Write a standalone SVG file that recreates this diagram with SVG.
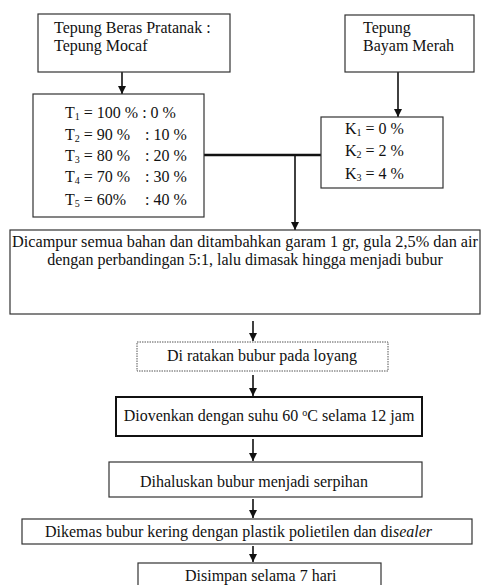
<svg xmlns="http://www.w3.org/2000/svg" width="481" height="585" viewBox="0 0 481 585" font-family="Liberation Serif, DejaVu Serif, serif">
<style>
text{font-family:'Liberation Serif','DejaVu Serif',serif;font-size:16px;fill:#111}
.box{fill:#fff;stroke:#333;stroke-width:1.2}
.thick{fill:#fff;stroke:#111;stroke-width:2}
.dot{fill:#fff;stroke:#555;stroke-width:1;stroke-dasharray:1.5 1}
.c{text-anchor:middle}
.conn{stroke:#111;stroke-width:1.6;fill:none}
.sub{font-size:10px}
</style>
<defs>
<marker id="ah" markerUnits="userSpaceOnUse" markerWidth="9" markerHeight="9" refX="8" refY="4" orient="auto">
<path d="M0,0 L8,4 L0,8 z" fill="#111"/>
</marker>
</defs>
<rect width="481" height="585" fill="#fff"/>
<g id="connectors">
<line class="conn" x1="122" y1="72" x2="122" y2="94" marker-end="url(#ah)"/>
<line class="conn" x1="398" y1="72" x2="398" y2="117" marker-end="url(#ah)"/>
<line x1="204" y1="155" x2="321" y2="155" stroke="#111" stroke-width="2.6"/>
<line class="conn" x1="295" y1="155" x2="295" y2="230" marker-end="url(#ah)"/>
<line class="conn" x1="253" y1="321" x2="253" y2="341" marker-end="url(#ah)"/>
<line class="conn" x1="253" y1="375" x2="253" y2="396" marker-end="url(#ah)"/>
<line class="conn" x1="253" y1="439" x2="253" y2="461" marker-end="url(#ah)"/>
<line class="conn" x1="253" y1="499" x2="253" y2="518" marker-end="url(#ah)"/>
<line class="conn" x1="253" y1="546" x2="253" y2="562" marker-end="url(#ah)"/>
</g>
<g id="tepung-beras">
<rect class="box" x="38" y="14" width="192" height="58"/>
<text x="54" y="33">Tepung Beras Pratanak :</text>
<text x="54" y="51">Tepung Mocaf</text>
</g>
<g id="tepung-bayam">
<rect class="box" x="345" y="15" width="129" height="57"/>
<text x="363" y="33">Tepung</text>
<text x="363" y="51">Bayam Merah</text>
</g>
<g id="perlakuan-t">
<rect class="box" x="33" y="94" width="171" height="123"/>
<text x="65" y="118">T<tspan class="sub" dy="2">1</tspan><tspan dy="-2"> = 100 % : 0 %</tspan></text>
<text x="65" y="140">T<tspan class="sub" dy="2">2</tspan><tspan dy="-2"> = 90 %</tspan></text>
<text x="145" y="140">: 10 %</text>
<text x="65" y="161">T<tspan class="sub" dy="2">3</tspan><tspan dy="-2"> = 80 %</tspan></text>
<text x="145" y="161">: 20 %</text>
<text x="65" y="182">T<tspan class="sub" dy="2">4</tspan><tspan dy="-2"> = 70 %</tspan></text>
<text x="145" y="182">: 30 %</text>
<text x="65" y="205">T<tspan class="sub" dy="2">5</tspan><tspan dy="-2"> = 60%</tspan></text>
<text x="145" y="205">: 40 %</text>
</g>
<g id="perlakuan-k">
<rect class="box" x="321" y="117" width="122" height="71"/>
<text x="345" y="134">K<tspan class="sub" dy="2">1</tspan><tspan dy="-2"> = 0 %</tspan></text>
<text x="345" y="156">K<tspan class="sub" dy="2">2</tspan><tspan dy="-2"> = 2 %</tspan></text>
<text x="345" y="179">K<tspan class="sub" dy="2">3</tspan><tspan dy="-2"> = 4 %</tspan></text>
</g>
<g id="dicampur">
<rect class="box" x="10" y="230" width="470" height="84"/>
<text class="c" x="245" y="247" textLength="466" lengthAdjust="spacingAndGlyphs">Dicampur semua bahan dan ditambahkan garam 1 gr, gula 2,5% dan air</text>
<text class="c" x="245" y="265">dengan perbandingan 5:1, lalu dimasak hingga menjadi bubur</text>
</g>
<g id="diratakan">
<rect class="dot" x="137" y="342" width="251" height="29"/>
<text class="c" x="262" y="361">Di ratakan bubur pada loyang</text>
</g>
<g id="diovenkan">
<rect class="thick" x="116" y="397" width="306" height="39"/>
<text class="c" x="269" y="421">Diovenkan dengan suhu 60 <tspan class="sub" dy="-5">o</tspan><tspan dy="5">C selama 12 jam</tspan></text>
</g>
<g id="dihaluskan">
<rect class="box" x="109" y="462" width="313" height="35"/>
<text x="140" y="487">Dihaluskan bubur menjadi serpihan</text>
</g>
<g id="dikemas">
<rect class="box" x="22" y="519" width="450" height="25"/>
<text x="45" y="537">Dikemas bubur kering dengan plastik polietilen dan di<tspan font-style="italic">sealer</tspan></text>
</g>
<g id="disimpan">
<rect class="box" x="138" y="563" width="243" height="30"/>
<text x="185" y="581">Disimpan selama 7 hari</text>
</g>
</svg>
